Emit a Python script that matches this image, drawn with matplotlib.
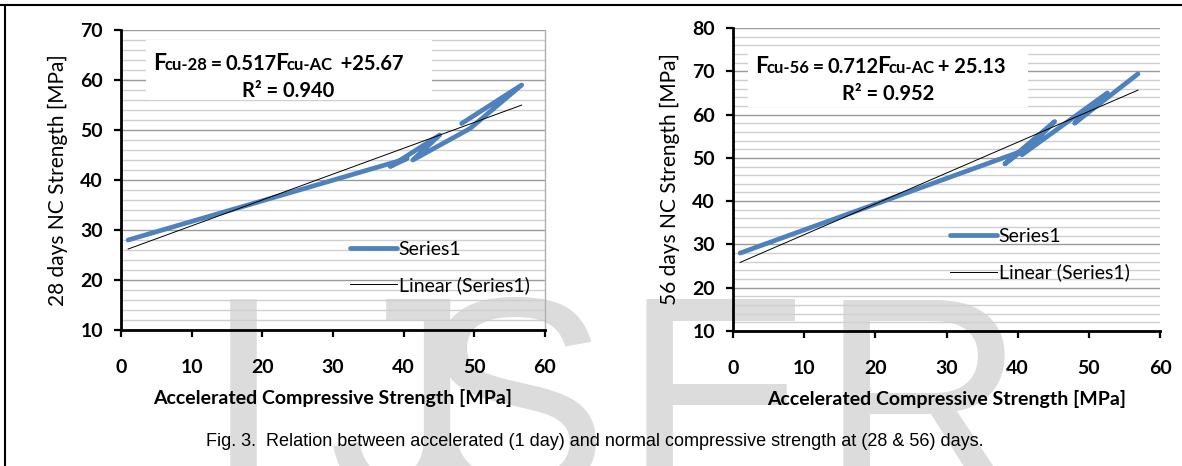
import matplotlib
matplotlib.use("Agg")
import matplotlib.pyplot as plt
import numpy as np
from matplotlib.lines import Line2D
from matplotlib.patches import Rectangle
from matplotlib.ticker import MultipleLocator

W, H = 1182, 466
FONT = "Lato"

# accelerated (1 day) strength vs. 28 / 56 day normal strength, in plotted order
accel_28 = [1, 40.5, 38.1, 45.1, 41.3, 49.4, 56.7, 48.2]
nc_28 = [28, 44.3, 42.7, 49.0, 44.0, 50.3, 59.0, 51.3]
accel_56 = [1, 40.5, 38.2, 45.2, 40.6, 52.6, 48.0, 56.9]
nc_56 = [28, 51.5, 48.6, 58.4, 50.7, 65.0, 58.0, 69.4]

# trendline coefficients printed on the charts
fit_28 = (0.517, 25.67, 0.940)
fit_56 = (0.712, 25.13, 0.952)

x_ticks = [0, 10, 20, 30, 40, 50, 60]
y_ticks_28 = [10, 20, 30, 40, 50, 60, 70]
y_ticks_56 = [10, 20, 30, 40, 50, 60, 70, 80]

BLUE = "#4f81bd"


def px_rect(x0, y0, x1, y1):
    return [x0 / W, 1 - y1 / H, (x1 - x0) / W, (y1 - y0) / H]


def style_axes(ax, yticks, right_border):
    ax.patch.set_alpha(0)
    ax.set_xlim(0, 60)
    ax.set_ylim(yticks[0], yticks[-1])
    ax.set_xticks(x_ticks)
    ax.set_yticks(yticks)
    ax.yaxis.set_minor_locator(MultipleLocator(2))
    ax.set_axisbelow(True)
    ax.grid(True, which="major", axis="y", color="#9a9a9a", lw=1.0)
    ax.grid(True, which="minor", axis="y", color="#cfcfcf", lw=1.0)
    for side in ("left", "bottom"):
        ax.spines[side].set_linewidth(2.0)
        ax.spines[side].set_color("black")
    ax.spines["top"].set_visible(False)
    if right_border:
        ax.spines["right"].set_color("#b0b0b0")
        ax.spines["right"].set_linewidth(1.0)
    else:
        ax.spines["right"].set_visible(False)
    ax.tick_params(axis="both", which="major", direction="out", length=5,
                   width=1.6, color="black")
    ax.tick_params(axis="y", which="minor", length=0)
    ax.tick_params(axis="y", pad=8)
    ax.tick_params(axis="x", pad=16)
    for lab in ax.get_xticklabels() + ax.get_yticklabels():
        lab.set_fontfamily(FONT)
        lab.set_fontweight("bold")
        lab.set_fontsize(14)


def draw_chart(ax, xs, ys, fit, ylabel, leg_anchor):
    ax.plot(xs, ys, color=BLUE, lw=3.4, solid_capstyle="round",
            solid_joinstyle="round", label="Series1", zorder=3)
    slope, icpt, _ = fit
    tx = np.array([min(xs), max(xs)])
    ax.plot(tx, slope * tx + icpt, color="black", lw=0.7,
            label="Linear (Series1)", zorder=4)
    ax.set_xlabel("Accelerated Compressive Strength [MPa]", fontfamily=FONT,
                  fontweight="bold", fontsize=14, labelpad=9)
    ax.set_ylabel(ylabel, fontfamily=FONT, fontsize=15, labelpad=9)
    ax.legend(loc="upper left", bbox_to_anchor=leg_anchor, frameon=False,
              prop={"family": FONT, "size": 14}, handlelength=2.4,
              handletextpad=0.1, labelspacing=0.95, borderpad=0,
              borderaxespad=0)


def draw_pieces(fig, x_px, y_px, pieces):
    renderer = fig.canvas.get_renderer()
    x = x_px
    for s, size in pieces:
        t = fig.text(x / W, 1 - y_px / H, s, fontsize=size, fontweight="bold",
                     fontfamily=FONT, ha="left", va="baseline", zorder=6)
        x += t.get_window_extent(renderer).width - 1.5


fig = plt.figure(figsize=(W / 100, H / 100), dpi=100)

# watermark letters behind everything
for ch, cx in zip("IJSER", [243, 400, 513, 718, 922]):
    fig.text(cx / W, 1 - 495 / H, ch, fontsize=205, fontfamily="Liberation Sans",
             color="#dcdcdc", ha="center", va="baseline", zorder=-5)

ax1 = fig.add_axes(px_rect(121, 30, 545, 330))
ax2 = fig.add_axes(px_rect(733, 28, 1160, 331))

draw_chart(ax1, accel_28, nc_28, fit_28, "28 days NC Strength [MPa]", (0.54, 0.298))
draw_chart(ax2, accel_56, nc_56, fit_56, "56 days NC Strength [MPa]", (0.508, 0.34))
style_axes(ax1, y_ticks_28, True)
style_axes(ax2, y_ticks_56, False)

# white label boxes for the trendline equations
for x0, y0, x1, y1 in [(146, 40, 432, 100), (748, 53, 1028, 107)]:
    fig.add_artist(Rectangle((x0 / W, 1 - y1 / H), (x1 - x0) / W, (y1 - y0) / H,
                             transform=fig.transFigure, facecolor="white",
                             edgecolor="none", zorder=5))

fig.canvas.draw()
draw_pieces(fig, 153, 70, [("F", 16.5), ("cu-28", 12), (" = ", 14),
                           (f"{fit_28[0]:.3f}", 14.5), ("F", 16.5), ("cu-AC", 12),
                           (f"  +{fit_28[1]:.2f}", 14.5)])
draw_pieces(fig, 242, 97, [(f"R\u00b2 = {fit_28[2]:.3f}", 14.5)])
draw_pieces(fig, 755, 73, [("F", 16.5), ("cu-56", 12), (" = ", 14),
                           (f"{fit_56[0]:.3f}", 14.5), ("F", 16.5), ("cu-AC", 12),
                           (f" + {fit_56[1]:.2f}", 14.5)])
draw_pieces(fig, 842, 100, [(f"R\u00b2 = {fit_56[2]:.3f}", 14.5)])

fig.text(595 / W, 1 - 442 / H,
         "Fig. 3.  Relation between accelerated (1 day) and normal compressive "
         "strength at (28 & 56) days.",
         fontfamily="Liberation Sans", fontsize=13, ha="center", va="center")

# page frame lines
fig.add_artist(Line2D([0, 1], [1 - 5 / H] * 2, transform=fig.transFigure,
                      color="black", lw=1.5))
fig.add_artist(Line2D([5 / W] * 2, [0, 1 - 5 / H], transform=fig.transFigure,
                      color="black", lw=1.5))

fig.savefig("out.png", dpi=100)
